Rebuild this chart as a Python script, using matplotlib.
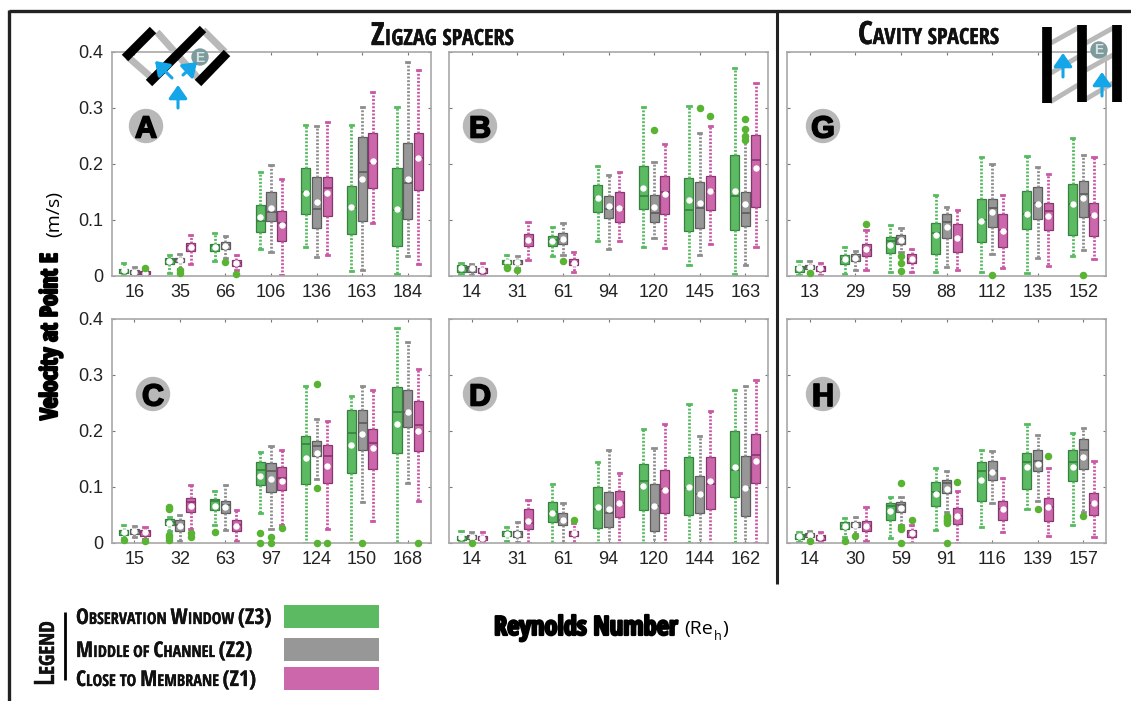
#!/usr/bin/env python3
# -*- coding: utf-8 -*-
"""Velocity at point E against Reynolds number, box plots for six spacer cases."""

import matplotlib as mpl
mpl.use("Agg")
import matplotlib.patheffects as pe
import matplotlib.pyplot as plt
from matplotlib.patches import Circle, FancyArrowPatch, Rectangle

mpl.rcParams["font.family"] = ["Liberation Sans", "DejaVu Sans"]

W, H = 1131, 701
NARROW = ["Open Sans Condensed", "Roboto Condensed", "Liberation Sans"]

# =======================
# Data: each row is whisker low, Q1, median, Q3, whisker high, mean
# =======================
RE_A = ["16", "35", "66", "106", "136", "163", "184"]
A_Z3 = [[.002, .005, .010, .013, .023, .010], [.006, .022, .028, .033, .037, .027],
        [.027, .045, .053, .058, .076, .051], [.048, .079, .098, .127, .186, .105],
        [.051, .110, .150, .192, .269, .148], [.009, .075, .122, .161, .269, .123],
        [.004, .053, .118, .192, .302, .120]]
A_Z2 = [[.001, .004, .007, .010, .016, .007], [.012, .025, .030, .033, .040, .029],
        [.033, .048, .056, .061, .072, .054], [.042, .099, .115, .150, .199, .121],
        [.034, .085, .119, .177, .268, .132], [.010, .098, .185, .248, .301, .174],
        [.036, .102, .166, .237, .382, .174]]
A_Z1 = [[.001, .003, .006, .009, .013, .006], [.022, .044, .053, .059, .074, .051],
        [.010, .018, .024, .028, .037, .023], [.002, .063, .094, .116, .173, .091],
        [.037, .108, .157, .177, .275, .149], [.094, .157, .201, .255, .329, .205],
        [.022, .153, .210, .256, .367, .210]]
A_OUT = {("16", 2): [.015], ("35", 1): [.005, .010], ("66", 1): [.025], ("66", 2): [.004]}

RE_B = ["14", "31", "61", "94", "120", "145", "163"]
B_Z3 = [[.004, .008, .014, .019, .024, .014], [.018, .021, .025, .029, .037, .025],
        [.035, .054, .064, .071, .088, .063], [.063, .115, .140, .162, .197, .139],
        [.051, .119, .143, .197, .302, .157], [.019, .081, .117, .175, .303, .135],
        [.003, .082, .143, .216, .372, .151]]
B_Z2 = [[.001, .008, .014, .018, .022, .015], [.015, .021, .025, .029, .035, .025],
        [.038, .058, .066, .076, .094, .066], [.048, .104, .120, .143, .181, .125],
        [.067, .097, .112, .144, .204, .124], [.037, .086, .122, .168, .256, .130],
        [.020, .089, .112, .150, .245, .129]]
B_Z1 = [[.001, .006, .010, .014, .023, .010], [.029, .054, .064, .075, .097, .064],
        [.007, .019, .025, .030, .042, .024], [.063, .097, .120, .150, .185, .121],
        [.050, .111, .150, .178, .235, .146], [.058, .118, .151, .178, .267, .151],
        [.052, .124, .208, .252, .344, .192]]
B_OUT = {("31", 0): [.014, .016], ("31", 1): [.011], ("61", 1): [.027], ("120", 1): [.260],
         ("145", 1): [.300], ("145", 2): [.286], ("163", 1): [.243, .250, .262, .280]}

RE_G = ["13", "29", "59", "88", "112", "135", "152"]
G_Z3 = [[.001, .008, .014, .018, .027, .014], [.004, .022, .030, .038, .052, .031],
        [.008, .041, .062, .069, .091, .055], [.008, .040, .076, .095, .145, .073],
        [.007, .061, .100, .138, .212, .099], [.006, .084, .110, .152, .215, .110],
        [.036, .074, .129, .164, .246, .128]]
G_Z2 = [[.008, .012, .016, .019, .027, .016], [.010, .027, .034, .040, .045, .033],
        [.042, .058, .066, .073, .086, .065], [.016, .068, .096, .110, .124, .087],
        [.040, .088, .122, .138, .200, .114], [.033, .102, .130, .159, .194, .128],
        [.047, .106, .147, .170, .216, .139]]
G_Z1 = [[.001, .009, .015, .018, .024, .015], [.010, .036, .047, .058, .083, .048],
        [.008, .024, .031, .039, .048, .031], [.011, .042, .066, .092, .117, .068],
        [.014, .052, .082, .110, .145, .081], [.018, .083, .116, .130, .182, .108],
        [.031, .072, .109, .130, .212, .109]]
G_OUT = {("13", 1): [.005], ("29", 2): [.092], ("59", 1): [.009, .024, .036],
         ("112", 1): [.001], ("152", 1): [.001]}

RE_C = ["15", "32", "63", "97", "124", "150", "168"]
C_Z3 = [[.008, .014, .019, .023, .031, .018], [.020, .031, .037, .042, .046, .035],
        [.031, .058, .074, .078, .092, .065], [.052, .103, .130, .144, .162, .118],
        [.000, .105, .176, .190, .279, .151], [.000, .124, .195, .236, .262, .174],
        [.000, .159, .233, .277, .383, .212]]
C_Z2 = [[.009, .016, .021, .025, .029, .020], [.002, .020, .031, .040, .050, .030],
        [.023, .052, .067, .075, .103, .063], [.025, .091, .128, .142, .172, .113],
        [.113, .154, .172, .182, .220, .160], [.072, .166, .213, .236, .279, .194],
        [.106, .206, .233, .272, .358, .233]]
C_Z1 = [[.006, .012, .019, .022, .027, .018], [.025, .055, .073, .079, .103, .065],
        [.002, .020, .032, .041, .058, .030], [.031, .093, .115, .135, .166, .110],
        [.024, .106, .155, .174, .217, .137], [.038, .131, .178, .202, .273, .168],
        [.074, .163, .210, .252, .309, .199]]
C_OUT = {("15", 0): [.004], ("15", 2): [.002], ("32", 0): [.005, .010, .014, .060, .063],
         ("32", 2): [.010, .017], ("63", 0): [.019], ("97", 0): [.000, .017],
         ("97", 1): [.000, .009], ("97", 2): [.026], ("124", 1): [.000, .097, .283],
         ("124", 2): [.000], ("150", 1): [.000], ("168", 2): [.000]}

RE_D = ["14", "31", "61", "94", "120", "144", "162"]
D_Z3 = [[.001, .005, .009, .012, .021, .009], [.002, .012, .016, .020, .027, .016],
        [.000, .037, .055, .072, .105, .052], [.000, .026, .060, .099, .143, .063],
        [.000, .058, .109, .140, .203, .101], [.000, .049, .098, .152, .248, .099],
        [.000, .082, .130, .200, .272, .135]]
D_Z2 = [[.003, .006, .010, .014, .019, .010], [.001, .010, .015, .020, .036, .015],
        [.000, .031, .040, .053, .070, .040], [.000, .027, .052, .091, .166, .060],
        [.000, .021, .065, .104, .168, .065], [.000, .053, .087, .119, .190, .087],
        [.000, .048, .098, .154, .279, .098]]
D_Z1 = [[.002, .004, .008, .012, .018, .008], [.000, .024, .034, .059, .076, .038],
        [.000, .011, .017, .021, .034, .017], [.000, .045, .071, .092, .124, .070],
        [.000, .052, .095, .129, .212, .094], [.000, .060, .104, .153, .234, .109],
        [.000, .106, .156, .193, .291, .145]]
D_OUT = {("14", 1): [.000], ("61", 2): [.041]}

RE_H = ["14", "30", "59", "91", "116", "139", "157"]
H_Z3 = [[.001, .007, .011, .015, .019, .011], [.009, .024, .030, .036, .044, .029],
        [.008, .041, .065, .071, .082, .056], [.023, .065, .090, .108, .133, .086],
        [.027, .075, .128, .143, .166, .112], [.060, .096, .143, .160, .212, .134],
        [.032, .109, .143, .166, .195, .135]]
H_Z2 = [[.004, .009, .013, .017, .020, .013], [.015, .028, .032, .036, .046, .031],
        [.032, .055, .067, .072, .082, .061], [.055, .089, .106, .112, .128, .095],
        [.071, .112, .128, .146, .164, .126], [.075, .127, .145, .165, .192, .141],
        [.055, .131, .166, .185, .205, .153]]
H_Z1 = [[.001, .005, .010, .014, .019, .010], [.003, .020, .030, .039, .064, .029],
        [.000, .010, .017, .023, .031, .017], [.000, .033, .048, .061, .092, .048],
        [.018, .040, .060, .074, .115, .060], [.011, .038, .063, .080, .133, .064],
        [.009, .049, .070, .089, .146, .071]]
H_OUT = {("14", 1): [.002], ("30", 0): [.002], ("30", 1): [.011],
         ("59", 1): [.000, .024, .027, .106], ("59", 2): [.041],
         ("91", 1): [.000, .035, .038, .041, .044, .047], ("91", 2): [.108],
         ("139", 1): [.060], ("139", 2): [.155], ("157", 1): [.048]}

ZONE_LABELS = ["Observation Window (Z3)", "Middle of Channel (Z2)", "Close to Membrane (Z1)"]

# =======================
# Style
# =======================
FILL = ["#5cba63", "#979797", "#cb67aa"]
EDGE = ["#37803f", "#5c5c5c", "#84376f"]
WHISK = ["#55bb5e", "#8d8d8d", "#c957a4"]
FLIER = "#58b432"
SPINE = "#a8a8a8"
BLUE = "#14a6e8"
OFFSET = 0.235


def to_stats(rows, out, labels, zone):
    stats = []
    for lab, r in zip(labels, rows):
        stats.append(dict(whislo=r[0], q1=r[1], med=r[2], q3=r[3], whishi=r[4], mean=r[5],
                          fliers=out.get((lab, zone), [])))
    return stats


def draw_panel(fig, left, top, labels, zones, out, ylabels):
    ax = fig.add_axes([left / W, 1 - (top + 224) / H, 319 / W, 224 / H])
    for z, rows in enumerate(zones):
        pos = [i + 1 + (z - 1) * OFFSET for i in range(len(labels))]
        arts = ax.bxp(
            to_stats(rows, out, labels, z), positions=pos, widths=0.2, patch_artist=True,
            showmeans=True, manage_ticks=False, capwidths=0.07,
            boxprops=dict(facecolor=FILL[z], edgecolor=EDGE[z], linewidth=0.9),
            medianprops=dict(color=EDGE[z], linewidth=1.2),
            whiskerprops=dict(color=WHISK[z], linewidth=2.0, linestyle=(0, (0.7, 0.6))),
            capprops=dict(color=WHISK[z], linewidth=2.0),
            meanprops=dict(marker="o", markerfacecolor="white", markeredgecolor="white",
                           markersize=3.6),
            flierprops=dict(marker="o", markerfacecolor=FLIER, markeredgecolor=FLIER,
                            markersize=4.4),
        )
        for f in arts["fliers"]:
            f.set_clip_on(False)
            f.set_zorder(4)
    ax.set_xlim(0.5, 7.5)
    ax.set_ylim(0, 0.4)
    ax.set_xticks(range(1, 8))
    ax.set_xticklabels(labels)
    ax.set_yticks([0, 0.1, 0.2, 0.3, 0.4])
    ax.set_yticklabels(["0", "0.1", "0.2", "0.3", "0.4"] if ylabels else [])
    ax.tick_params(direction="in", length=2.5, width=0.8, color="#777777", top=True, right=True,
                   labelsize=13, labelcolor="#222222", pad=6)
    for s in ax.spines.values():
        s.set_color(SPINE)
        s.set_linewidth(1.2)
    return ax


def draw_runs(ov, renderer, x, y, runs, vertical=False, color="black"):
    # sequence of text pieces, used for the small caps
    for txt, size, weight, stroke, fam in runs:
        t = ov.text(x, y, txt, fontsize=size, fontweight=weight, family=fam, color=color,
                    ha="left", va="baseline", rotation=90 if vertical else 0,
                    rotation_mode="anchor")
        if stroke:
            t.set_path_effects([pe.withStroke(linewidth=stroke, foreground=color)])
        bb = t.get_window_extent(renderer)
        if vertical:
            y -= bb.height
        else:
            x += bb.width


def caps(text, big, small, stroke=0.0):
    # small caps: upper case letters and digits big, the rest small
    runs = []
    for word in text.split(" "):
        chunk = ""
        for ch in word:
            is_big = ch.isupper() or not ch.isalpha() or (word.startswith("(") and ch != "(")
            if is_big:
                if chunk:
                    runs.append((chunk.upper(), small, "bold", stroke, NARROW))
                    chunk = ""
                runs.append((ch.upper(), big, "bold", stroke, NARROW))
            else:
                chunk += ch
        if chunk:
            runs.append((chunk.upper(), small, "bold", stroke, NARROW))
        runs.append((" ", small, "bold", 0, NARROW))
    return runs[:-1]


def draw_icons(ov):
    def bar(p, q, col, lw):
        ov.plot([p[0], q[0]], [p[1], q[1]], color=col, lw=lw, solid_capstyle="butt", zorder=3)

    def arrow(p, q):
        ov.add_patch(FancyArrowPatch(p, q, arrowstyle="-|>,head_length=5,head_width=3.5",
                                     mutation_scale=1.6, color=BLUE, lw=2.2, zorder=5,
                                     shrinkA=0, shrinkB=0))

    # zigzag sketch
    for p, q in [((157, 32), (198, 78)), ((128, 57), (152, 78)), ((203, 30), (225, 52))]:
        bar(p, q, "#b9b9b9", 5)
    for p, q in [((125, 58), (153, 30)), ((149, 83), (203, 29)), ((198, 83), (227, 53))]:
        bar(p, q, "black", 6.5)
    ov.add_patch(Circle((200, 57), 8, color="#7d9a9c", zorder=4))
    ov.text(200, 57.5, "E", color="#d8e4e4", fontsize=10, fontweight="bold", ha="center",
            va="center", zorder=6)
    arrow((178, 108), (178, 85))
    arrow((183, 75), (197, 62))
    arrow((172, 78), (155, 61))

    # cavity sketch
    for p, q in [((1051, 43), (1078, 28)), ((1051, 73), (1078, 57)), ((1050, 102), (1078, 85)),
                 ((1086, 43), (1113, 28)), ((1086, 70), (1113, 55)), ((1086, 99), (1113, 83))]:
        bar(p, q, "#b9b9b9", 3.5)
    for xb, y0, y1 in [(1047, 27, 103), (1082, 25, 102), (1117, 25, 102)]:
        bar((xb, y0), (xb, y1), "black", 7)
    ov.add_patch(Circle((1099, 50), 8, color="#7d9a9c", zorder=4))
    ov.text(1099, 50.5, "E", color="#d8e4e4", fontsize=10, fontweight="bold", ha="center",
            va="center", zorder=6)
    arrow((1063, 77), (1063, 53))
    arrow((1102, 96), (1102, 72))


def main():
    fig = plt.figure(figsize=(W / 100, H / 100), dpi=100)

    panels = [
        (111.5, 52, RE_A, (A_Z3, A_Z2, A_Z1), A_OUT, True),
        (449, 52, RE_B, (B_Z3, B_Z2, B_Z1), B_OUT, False),
        (787, 52, RE_G, (G_Z3, G_Z2, G_Z1), G_OUT, False),
        (111.5, 318.5, RE_C, (C_Z3, C_Z2, C_Z1), C_OUT, True),
        (449, 318.5, RE_D, (D_Z3, D_Z2, D_Z1), D_OUT, False),
        (787, 318.5, RE_H, (H_Z3, H_Z2, H_Z1), H_OUT, False),
    ]
    for left, top, labels, zones, out, ylab in panels:
        draw_panel(fig, left, top, labels, zones, out, ylab)

    # overlay in pixel coordinates for frame, badges, titles and legend
    ov = fig.add_axes([0, 0, 1, 1], zorder=10)
    ov.set_xlim(0, W)
    ov.set_ylim(H, 0)
    ov.axis("off")
    renderer = fig.canvas.get_renderer()

    ov.plot([9, W], [11, 11], color="#222222", lw=2.4, solid_capstyle="butt")
    ov.plot([9, 9], [10, H], color="#222222", lw=2.4, solid_capstyle="butt")
    ov.plot([777, 777], [11, 584], color="#222222", lw=2.2, solid_capstyle="butt")

    for letter, cx, cy in [("A", 146, 126), ("B", 480, 126), ("G", 823, 126),
                           ("C", 153, 394), ("D", 480, 394), ("H", 823, 394)]:
        ov.add_patch(Circle((cx, cy), 16.5, color="#b8b8b8", zorder=3))
        t = ov.text(cx, cy, letter, fontsize=22, fontweight="bold", ha="center",
                    va="center_baseline", color="black", zorder=4)
        t.set_path_effects([pe.withStroke(linewidth=1.2, foreground="black")])

    draw_icons(ov)

    draw_runs(ov, renderer, 371, 45, caps("Zigzag spacers", 23, 16, 0.3), color="#111111")
    draw_runs(ov, renderer, 858, 44, caps("Cavity spacers", 23, 16, 0.3), color="#111111")

    draw_runs(ov, renderer, 57, 420, [("Velocity at Point E", 17, "bold", 1.6, NARROW)],
              vertical=True)
    draw_runs(ov, renderer, 59, 237, [("(m/s)", 14, "normal", 0, "Open Sans")], vertical=True)

    draw_runs(ov, renderer, 494, 635, [("Reynolds Number", 19, "bold", 1.6, NARROW)])
    ov.text(684, 634, "(Re", fontsize=14, family="Open Sans", ha="left", va="baseline")
    ov.text(714, 640, "h", fontsize=9, family="Open Sans", ha="left", va="baseline")
    ov.text(722, 634, ")", fontsize=14, family="Open Sans", ha="left", va="baseline")

    # legend
    for y0, label, col in zip([605, 638, 667], ZONE_LABELS, FILL):
        ov.add_patch(Rectangle((284, y0), 95, 23, facecolor=col, edgecolor="none"))
        draw_runs(ov, renderer, 76, y0 + 19, caps(label, 15.6, 11.7, 0.2), color="#111111")
    ov.plot([65, 65], [612, 680], color="black", lw=2, solid_capstyle="butt")
    draw_runs(ov, renderer, 54, 686, caps("Legend", 20, 15, 0.3), vertical=True, color="#111111")

    fig.savefig("out.png", dpi=100)


if __name__ == "__main__":
    main()
